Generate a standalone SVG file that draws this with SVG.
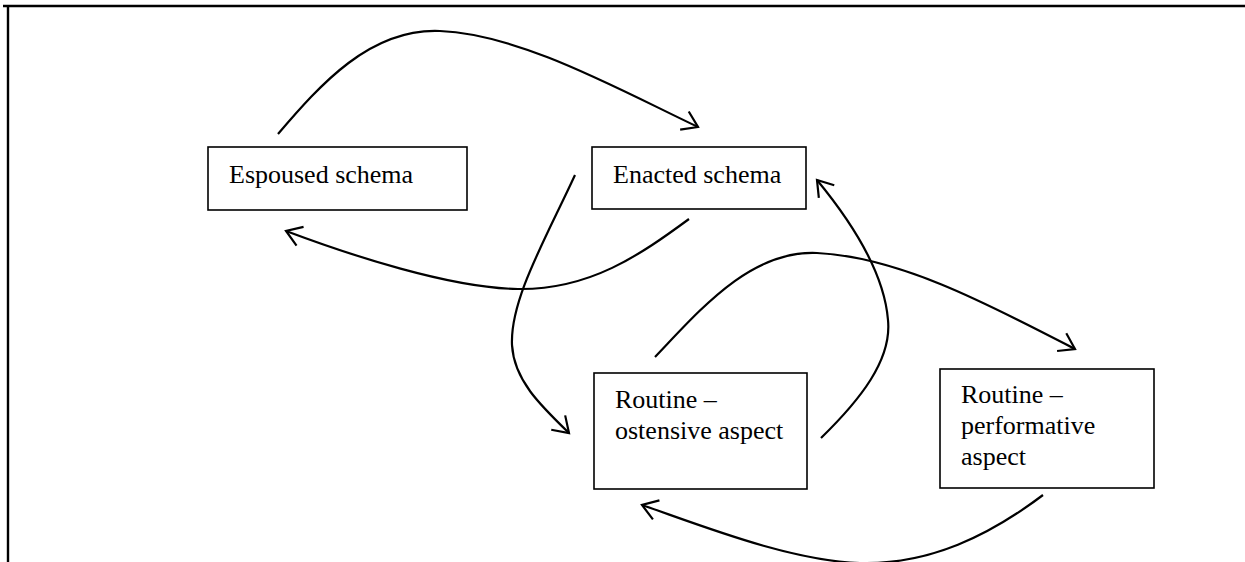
<svg xmlns="http://www.w3.org/2000/svg" width="1245" height="562" viewBox="0 0 1245 562">
<style>
.box{fill:#fff;stroke:#000;stroke-width:1.6}
.lbl{font-family:"Liberation Serif","Times New Roman",serif;font-size:26px;fill:#000}
.con{fill:none;stroke:#000;stroke-width:2.2}
.frame{fill:none;stroke:#000;stroke-width:2.4}
</style>
<defs>
<marker id="arr" markerUnits="userSpaceOnUse" markerWidth="40" markerHeight="40" viewBox="-20 -20 40 40" refX="0" refY="0" orient="auto">
<path d="M-15,-10 L0,0 L-15,10" fill="none" stroke="#000" stroke-width="2.2"/>
</marker>
</defs>
<path class="frame" d="M3,6 H1245 M8,6 V562"/>
<g id="connectors">
<path class="con" marker-end="url(#arr)" d="M278,134 C320,85 370,28 440,31 C520,34 620,90 698,127"/>
<path class="con" marker-end="url(#arr)" d="M689,219 C640,255 590,290 518,289 C450,288 350,255 286,231"/>
<path class="con" marker-end="url(#arr)" d="M575,175 C545,240 510,300 512,345 C514,380 540,405 569,433"/>
<path class="con" marker-end="url(#arr)" d="M655,357 C700,310 750,250 817,253 C900,257 990,305 1075,349"/>
<path class="con" marker-end="url(#arr)" d="M821,438 C860,400 892,360 888,320 C884,270 850,220 817,180"/>
<path class="con" marker-end="url(#arr)" d="M1043,495 C990,535 930,565 860,563 C790,561 700,525 642,505"/>
</g>
<g id="espoused">
<rect class="box" x="208" y="147" width="259" height="63"/>
<text class="lbl" x="229" y="183">Espoused schema</text>
</g>
<g id="enacted">
<rect class="box" x="592" y="147" width="214" height="62"/>
<text class="lbl" x="613" y="183">Enacted schema</text>
</g>
<g id="ostensive">
<rect class="box" x="594" y="373" width="213" height="116"/>
<text class="lbl" x="615" y="408">Routine –</text>
<text class="lbl" x="615" y="439">ostensive aspect</text>
</g>
<g id="performative">
<rect class="box" x="940" y="369" width="214" height="119"/>
<text class="lbl" x="961" y="403">Routine –</text>
<text class="lbl" x="961" y="434">performative</text>
<text class="lbl" x="961" y="465">aspect</text>
</g>
</svg>
